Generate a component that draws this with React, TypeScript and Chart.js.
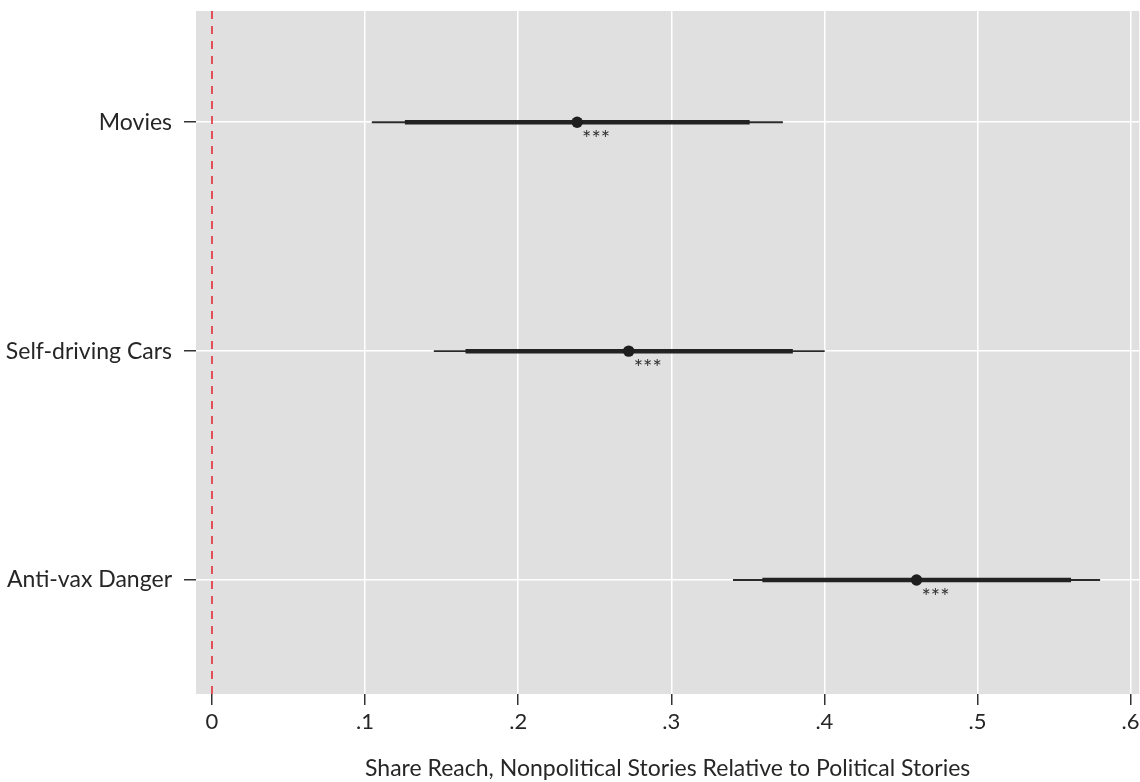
import React, { useEffect, useRef } from "react";
import { Chart, registerables } from "chart.js";

Chart.register(...registerables);

const categories = ["Movies", "Self-driving Cars", "Anti-vax Danger"];
const estimates = [0.2385, 0.2722, 0.4602];
const ci95Low = [0.1044, 0.1449, 0.3403];
const ci95High = [0.3729, 0.4002, 0.5801];
const ci90Low = [0.126, 0.1656, 0.3595];
const ci90High = [0.3512, 0.3794, 0.5611];
const stars = ["***", "***", "***"];
const xTicks = [0, 0.1, 0.2, 0.3, 0.4, 0.5, 0.6];
const xTickLabels = ["0", ".1", ".2", ".3", ".4", ".5", ".6"];
const axisTitle = "Share Reach, Nonpolitical Stories Relative to Political Stories";

const FONT = "Lato, 'Open Sans', sans-serif";
const INK = "#262626";

export default function App() {
  const ref = useRef<HTMLCanvasElement | null>(null);

  useEffect(() => {
    if (!ref.current) return;
    const thin = categories.map((_, i) => ({
      type: "line" as const,
      data: [
        { x: ci95Low[i], y: i + 1 },
        { x: ci95High[i], y: i + 1 },
      ],
      borderColor: "#2a2a2a",
      borderWidth: 1.8,
      pointRadius: 0,
      order: 3,
    }));
    const thick = categories.map((_, i) => ({
      type: "line" as const,
      data: [
        { x: ci90Low[i], y: i + 1 },
        { x: ci90High[i], y: i + 1 },
      ],
      borderColor: "#222222",
      borderWidth: 4.5,
      borderCapStyle: "butt" as const,
      pointRadius: 0,
      order: 2,
    }));
    const points = {
      type: "scatter" as const,
      data: estimates.map((v, i) => ({ x: v, y: i + 1 })),
      backgroundColor: "#1e1e1e",
      borderColor: "#1e1e1e",
      pointRadius: 5.7,
      borderWidth: 0,
      order: 1,
    };

    const bgPlugin = {
      id: "bg",
      beforeDraw(chart: any) {
        const { ctx, chartArea } = chart;
        ctx.save();
        ctx.fillStyle = "#e0e0e0";
        ctx.fillRect(chartArea.left, chartArea.top, chartArea.right - chartArea.left, chartArea.bottom - chartArea.top);
        ctx.restore();
      },
      beforeDatasetsDraw(chart: any) {
        const { ctx, chartArea } = chart;
        const x = chart.scales.x.getPixelForValue(0);
        ctx.save();
        ctx.strokeStyle = "#e0222c";
        ctx.lineWidth = 1.5;
        ctx.setLineDash([8, 7]);
        ctx.beginPath();
        ctx.moveTo(x, chartArea.top);
        ctx.lineTo(x, chartArea.bottom);
        ctx.stroke();
        ctx.restore();
      },
      afterDatasetsDraw(chart: any) {
        const { ctx } = chart;
        ctx.save();
        ctx.fillStyle = "#333333";
        ctx.font = `22px ${FONT}`;
        ctx.textAlign = "center";
        ctx.textBaseline = "middle";
        estimates.forEach((v, i) => {
          const x = chart.scales.x.getPixelForValue(v);
          const y = chart.scales.y.getPixelForValue(i + 1);
          ctx.fillText(stars[i], x + 19, y + 17);
        });
        ctx.restore();
      },
    };

    const chart = new Chart(ref.current, {
      type: "line",
      data: { datasets: [...thin, ...thick, points] as any },
      options: {
        animation: false,
        responsive: false,
        maintainAspectRatio: false,
        layout: { padding: { top: 11, right: 0, left: 0, bottom: 0 } },
        plugins: { legend: { display: false }, tooltip: { enabled: false } },
        scales: {
          x: {
            type: "linear",
            min: -0.01044,
            max: 0.6057,
            afterBuildTicks: (s: any) => {
              s.ticks = xTicks.map((v) => ({ value: v }));
            },
            afterFit: (s: any) => {
              s.height = 88;
              s.paddingLeft = 0;
              s.paddingRight = 0;
            },
            border: { display: false },
            grid: {
              color: (c: any) => (c.tick && c.tick.value === 0 ? "rgba(0,0,0,0)" : "#ffffff"),
              lineWidth: 1.5,
              tickColor: "#333333",
              tickLength: 11,
              drawTicks: true,
            },
            ticks: {
              color: INK,
              font: { family: FONT, size: 22 },
              padding: 4,
              maxRotation: 0,
              autoSkip: false,
              callback: (v: any) => {
                const idx = xTicks.findIndex((t) => Math.abs(t - Number(v)) < 1e-9);
                return idx >= 0 ? xTickLabels[idx] : "";
              },
            },
            title: {
              display: true,
              text: axisTitle,
              color: INK,
              font: { family: FONT, size: 23 },
              padding: { top: 0, bottom: 0 },
            },
          },
          y: {
            type: "linear",
            reverse: true,
            min: 0.514,
            max: 3.498,
            afterBuildTicks: (s: any) => {
              s.ticks = categories.map((_, i) => ({ value: i + 1 }));
            },
            afterFit: (s: any) => {
              s.width = 196;
              s.paddingTop = 0;
              s.paddingBottom = 0;
            },
            border: { display: false },
            grid: {
              color: "#ffffff",
              lineWidth: 1.5,
              tickColor: "#333333",
              tickLength: 12,
            },
            ticks: {
              color: INK,
              font: { family: FONT, size: 23 },
              padding: 12,
              autoSkip: false,
              callback: (v: any) => categories[Math.round(Number(v)) - 1] ?? "",
            },
          },
        },
      },
      plugins: [bgPlugin],
    });
    return () => chart.destroy();
  }, []);

  return (
    <div style={{ position: "absolute", left: 0, top: 0, width: 1140, height: 782, overflow: "hidden", background: "#fff" }}>
      <canvas ref={ref} width={1145} height={782} style={{ display: "block", width: 1145, height: 782 }} />
    </div>
  );
}
